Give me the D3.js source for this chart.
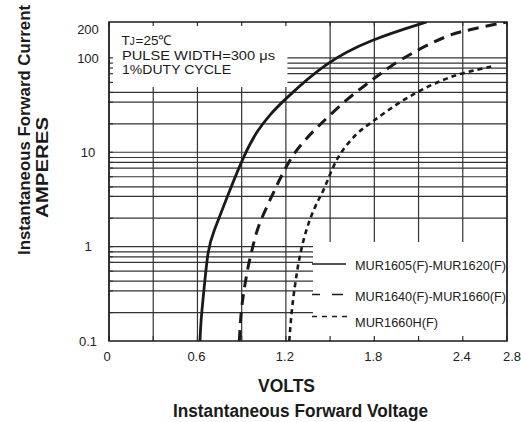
<!DOCTYPE html>
<html><head><meta charset="utf-8">
<script src="https://cdn.jsdelivr.net/npm/d3@7"></script>
<style>
html,body{margin:0;padding:0;background:#fff;}
svg{display:block;font-family:"Liberation Sans",Arial,Helvetica,sans-serif;}
</style></head><body>
<svg id="chart" width="521" height="422"></svg>
<script>
// grid every 0.3 V; the sheet prints "2.8" on its right edge (which is 2.7)
const xGrid = [0, 0.3, 0.6, 0.9, 1.2, 1.5, 1.8, 2.1, 2.4, 2.7];
const xTickVals = [0, 0.6, 1.2, 1.8, 2.4, 2.7];
const xTickLabels = ['0', '0.6', '1.2', '1.8', '2.4', '2.8'];
const yTickVals = [0.1, 1, 10, 100, 200];
const yTickLabels = ['0.1', '1', '10', '100', '200'];
// the printed log grid is not a true 1..9 grid: these are the lines inside each decade
const yDecades = [1, 10, 100];
const yMinor = [1, 0.88, 0.78, 0.68, 0.55, 0.43, 0.34, 0.2];

// forward voltage (V) vs forward current (A)
const solidV = [0.617, 0.624, 0.638, 0.672, 0.707, 0.794, 0.923, 1.011, 1.092, 1.18, 1.47, 1.778, 2.155];
const solidI = [0.1, 0.168, 0.275, 1.0, 1.39, 3.15, 10, 17.4, 25.1, 34.8, 90, 157, 240];
const dashV = [0.884, 0.896, 0.918, 0.945, 0.974, 1.008, 1.104, 1.178, 1.248, 1.33, 1.431, 1.635, 1.778, 1.893, 2.096, 2.291, 2.40, 2.698];
const dashI = [0.1, 0.214, 0.363, 0.643, 0.966, 1.64, 3.41, 6.04, 9.46, 13.6, 19.7, 39.3, 56.7, 79.3, 123, 171, 193, 240];
const dotV = [1.223, 1.239, 1.262, 1.284, 1.318, 1.364, 1.42, 1.454, 1.511, 1.567, 1.68, 1.778, 1.929, 2.098, 2.268, 2.404, 2.607];
const dotI = [0.1, 0.214, 0.394, 0.67, 1.18, 2.01, 3.15, 3.85, 6.55, 9.86, 16.1, 20.5, 30.8, 44.5, 59.2, 69.7, 81.9];

const seriesNames = ['MUR1605(F)-MUR1620(F)', 'MUR1640(F)-MUR1660(F)', 'MUR1660H(F)'];
const noteLines = ['PULSE WIDTH=300 \u03bcs', '1%DUTY CYCLE'];

const svg = d3.select('#chart');
const L = 109, R = 507, T = 22, B = 341;
const x = d3.scaleLinear().domain([0, 2.7]).range([L, R]);
const y = d3.scaleLog().domain([0.1, 240]).range([B, T]);
const ink = '#1a1a1a', gridCol = '#333';

const yGrid = [];
yDecades.forEach(d => yMinor.forEach(m => yGrid.push(d * m)));

// grid
const grid = svg.append('g').attr('stroke', gridCol).attr('stroke-width', 1.2);
grid.selectAll('line.h').data(yGrid).enter().append('line')
  .attr('x1', L).attr('x2', R).attr('y1', d => y(d)).attr('y2', d => y(d));
grid.selectAll('line.v').data(xGrid).enter().append('line')
  .attr('x1', d => x(d)).attr('x2', d => x(d)).attr('y1', T).attr('y2', B);

// white panels under the note and the legend, as on the sheet
svg.append('rect').attr('x', L + 1).attr('y', T + 1).attr('width', x(1.2) + 1.5 - L - 1).attr('height', 87 - T - 1).attr('fill', '#fff');
svg.append('rect').attr('x', 313).attr('y', 242).attr('width', R - 313 - 0.8).attr('height', B - 242 - 1).attr('fill', '#fff');

// short inward ticks on the frame
const tk = svg.append('g').attr('stroke', gridCol).attr('stroke-width', 1.2);
tk.selectAll('line.l').data(yGrid).enter().append('line')
  .attr('x1', L).attr('x2', L + 4).attr('y1', d => y(d)).attr('y2', d => y(d));
tk.selectAll('line.t').data(xGrid).enter().append('line')
  .attr('x1', d => x(d)).attr('x2', d => x(d)).attr('y1', T).attr('y2', T + 4);
tk.selectAll('line.b').data(xGrid).enter().append('line')
  .attr('x1', d => x(d)).attr('x2', d => x(d)).attr('y1', B).attr('y2', B - 5);

svg.append('rect').attr('x', L).attr('y', T).attr('width', R - L).attr('height', B - T)
  .attr('fill', 'none').attr('stroke', ink).attr('stroke-width', 1.5);

// curves (basis smooths the small reading wobble)
svg.append('clipPath').attr('id', 'clip').append('rect').attr('x', L).attr('y', T).attr('width', R - L).attr('height', B - T);
const line = d3.line().x(d => x(d[0])).y(d => y(d[1])).curve(d3.curveBasis);
const curves = [
  { v: solidV, i: solidI, w: 2.8, dash: null },
  { v: dashV, i: dashI, w: 3, dash: '11,7' },
  { v: dotV, i: dotI, w: 2.6, dash: '5,4' }
];
const gc = svg.append('g').attr('clip-path', 'url(#clip)');
curves.forEach(c => {
  gc.append('path').datum(c.v.map((v, k) => [v, c.i[k]])).attr('d', line)
    .attr('fill', 'none').attr('stroke', ink).attr('stroke-width', c.w).attr('stroke-dasharray', c.dash);
});

// axis labels
const xa = svg.append('g').attr('font-size', 13).attr('fill', '#222').attr('text-anchor', 'middle');
xa.selectAll('text').data(xTickVals).enter().append('text')
  .attr('x', (d, k) => x(d) + (k === xTickVals.length - 1 ? 5 : (k === 0 ? -2 : -1))).attr('y', B + 20)
  .text((d, k) => xTickLabels[k]);
const ya = svg.append('g').attr('font-size', 13).attr('fill', '#222').attr('text-anchor', 'middle');
ya.selectAll('text').data(yTickVals).enter().append('text')
  .attr('x', 88).attr('y', d => y(d)).attr('dy', '0.36em')
  .text((d, k) => yTickLabels[k]);

svg.append('text').attr('transform', 'translate(30,130) rotate(-90)').attr('text-anchor', 'middle')
  .attr('font-size', 17).attr('font-weight', 'bold').attr('fill', ink)
  .attr('textLength', 250).attr('lengthAdjust', 'spacingAndGlyphs').text('Instantaneous Forward Current');
svg.append('text').attr('transform', 'translate(48,167.5) rotate(-90)').attr('text-anchor', 'middle')
  .attr('font-size', 16).attr('font-weight', 'bold').attr('fill', ink)
  .attr('textLength', 101).attr('lengthAdjust', 'spacingAndGlyphs').text('AMPERES');
svg.append('text').attr('x', 286.5).attr('y', 392).attr('text-anchor', 'middle')
  .attr('font-size', 18).attr('font-weight', 'bold').attr('fill', ink)
  .attr('textLength', 57).attr('lengthAdjust', 'spacingAndGlyphs').text('VOLTS');
svg.append('text').attr('x', 300.5).attr('y', 417).attr('text-anchor', 'middle')
  .attr('font-size', 18).attr('font-weight', 'bold').attr('fill', ink)
  .attr('textLength', 255).attr('lengthAdjust', 'spacingAndGlyphs').text('Instantaneous Forward Voltage');

// test conditions note: T, small J, then the rest as separate runs
const note = svg.append('g').attr('fill', ink);
note.append('text').attr('x', 121.5).attr('y', 44.5).attr('font-size', 13.5).text('T');
note.append('text').attr('x', 129.8).attr('y', 44.5).attr('font-size', 10).text('J');
note.append('text').attr('x', 135.5).attr('y', 44.5).attr('font-size', 13.5).text('=25\u2103');
note.selectAll('text.n').data(noteLines).enter().append('text')
  .attr('x', 122).attr('y', (d, k) => 59.5 + k * 14.5).attr('font-size', 13)
  .attr('textLength', (d, k) => k === 0 ? 153 : 109).attr('lengthAdjust', 'spacingAndGlyphs').text(d => d);

// legend
const lg = svg.append('g');
const legY = [264, 294.5, 316.5], legDash = [null, '8,12,11', '5,5'], legTxtY = [270, 300.5, 327];
const legLen = [151, 151, 83];
seriesNames.forEach((name, k) => {
  lg.append('line').attr('x1', 312).attr('x2', k === 2 ? 347 : (k === 1 ? 344 : 346))
    .attr('y1', legY[k]).attr('y2', legY[k]).attr('stroke', ink).attr('stroke-width', 1.3)
    .attr('stroke-dasharray', legDash[k]);
  lg.append('text').attr('x', 355).attr('y', legTxtY[k]).attr('font-size', 13.5).attr('fill', '#222')
    .attr('textLength', legLen[k]).attr('lengthAdjust', 'spacingAndGlyphs').text(name);
});
</script>
</body></html>
